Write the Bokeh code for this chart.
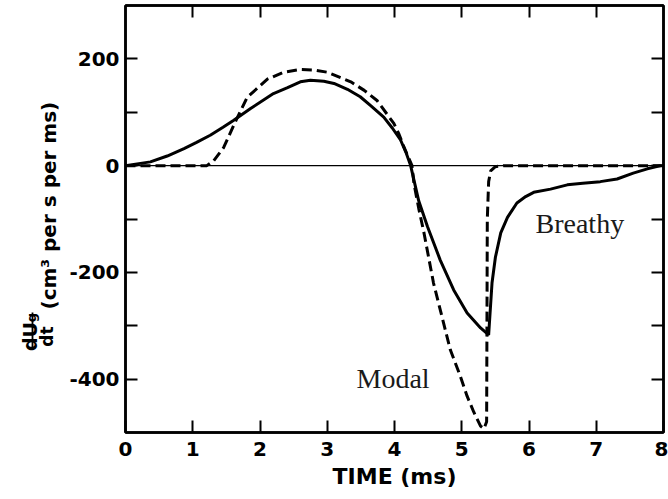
import math

from bokeh.plotting import figure
from bokeh.layouts import row
from bokeh.models import Range1d, LinearAxis, FixedTicker, Span, Label
from bokeh.core.properties import value
from bokeh.embed import file_html
from bokeh.resources import INLINE

# Glottal flow derivative, breathy phonation (solid trace): time in ms, dUg/dt
breathy_t = [0.0, 0.37, 0.62, 0.87, 1.05, 1.26, 1.45, 1.61, 1.86, 2.2, 2.41, 2.6, 2.75,
             2.95, 3.1, 3.3, 3.49, 3.65, 3.84, 3.97, 4.09, 4.17, 4.24, 4.36, 4.49,
             4.68, 4.88, 5.08, 5.28, 5.40, 5.45, 5.50, 5.58, 5.68, 5.82, 5.95, 6.07,
             6.32, 6.57, 6.8, 7.06, 7.31, 7.55, 7.76, 7.96]
breathy_v = [0, 7, 18, 32, 43, 57, 72, 85, 107, 135, 146, 157, 160,
             158, 154, 143, 129, 112, 91, 70, 48, 25, 0, -66, -114,
             -177, -233, -276, -304, -317, -220, -172, -126, -97, -70, -58, -50,
             -44, -36, -33, -30, -25, -14, -6, 0]

# Glottal flow derivative, modal phonation (dashed trace)
modal_t = [0.0, 1.21, 1.31, 1.46, 1.64, 1.81, 2.11, 2.35, 2.6, 2.8, 3.0, 3.35, 3.55,
           3.74, 3.99, 4.07, 4.14, 4.26, 4.29, 4.36, 4.44, 4.58, 4.73, 4.83, 4.98,
           5.08, 5.18, 5.28, 5.33, 5.37, 5.38, 5.40, 5.43, 5.50, 5.62, 8.0]
modal_v = [0, 0, 9, 34, 84, 128, 162, 175, 180, 179, 175, 157, 141,
           122, 79, 58, 35, 0, -34, -80, -127, -220, -295, -345, -395,
           -432, -462, -488, -493, -480, -100, -30, -10, -2, 0, 0]

x_ticks = [0, 1, 2, 3, 4, 5, 6, 7, 8]
x_tick_labels = ["0", "1", "2", "3", "4", "5", "6", "7", "8"]
y_ticks = [-400, -200, 0, 200]
y_tick_labels = ["-400", "-200", "0", "200"]
y_minor_ticks = [-300, -100, 100]

X0, X1 = 0, 8
Y0, Y1 = -500, 300

W, H = 668, 499
LAB_W = 64                          # strip holding the vertical axis title
FL, FR, FT, FB = 125, 663, 5, 432   # plot frame edges, canvas pixels

TICK_FONT = "DejaVu Sans"
INK = "black"

# ---- main plot -------------------------------------------------------------
p = figure(width=W - LAB_W, height=H, x_range=Range1d(X0, X1), y_range=Range1d(Y0, Y1),
           output_backend="svg", toolbar_location=None,
           min_border_left=FL - LAB_W, min_border_right=W - FR,
           min_border_top=FT, min_border_bottom=H - FB)
p.grid.visible = False
p.background_fill_color = "white"
p.border_fill_color = "white"
p.outline_line_color = INK
p.outline_line_width = 2.5
p.outline_line_alpha = 1.0


def style_axis(ax):
    ax.major_tick_in = 12
    ax.major_tick_out = 0
    ax.minor_tick_in = 12
    ax.minor_tick_out = 0
    ax.major_tick_line_width = 2
    ax.minor_tick_line_width = 2
    ax.major_tick_line_color = INK
    ax.minor_tick_line_color = INK
    ax.axis_line_width = 2.5
    ax.axis_line_color = INK
    ax.major_label_text_font = TICK_FONT
    ax.major_label_text_font_style = "bold"
    ax.major_label_text_font_size = "20px"
    ax.major_label_text_color = INK


xax = p.xaxis[0]
xax.ticker = FixedTicker(ticks=x_ticks)
xax.major_label_overrides = {t: s for t, s in zip(x_ticks, x_tick_labels)}
style_axis(xax)
xax.major_label_standoff = 9
xax.axis_label = "TIME (ms)"
xax.axis_label_text_font = TICK_FONT
xax.axis_label_text_font_style = "bold"
xax.axis_label_text_font_size = "22px"
xax.axis_label_text_color = INK
xax.axis_label_standoff = 5

yax = p.yaxis[0]
yax.ticker = FixedTicker(ticks=y_ticks, minor_ticks=y_minor_ticks)
yax.major_label_overrides = {t: s for t, s in zip(y_ticks, y_tick_labels)}
style_axis(yax)
yax.major_label_standoff = 6
yax.axis_label = None

# tick marks only along the top and right edges
top = LinearAxis(ticker=FixedTicker(ticks=[], minor_ticks=x_ticks[1:-1]))
style_axis(top)
top.major_label_standoff = 0
top.axis_label = None
p.add_layout(top, "above")

right = LinearAxis(ticker=FixedTicker(ticks=[], minor_ticks=y_ticks + y_minor_ticks))
style_axis(right)
right.major_label_standoff = 0
right.axis_label = None
p.add_layout(right, "right")

# zero reference line
p.add_layout(Span(location=0, dimension="width", line_color=INK, line_width=1.3))

# traces
p.line(modal_t, modal_v, line_color=INK, line_width=3, line_dash="10 5")
p.line(breathy_t, breathy_v, line_color=INK, line_width=3)


def sx2x(sx):
    return X0 + (sx - FL) / (FR - FL) * (X1 - X0)


def sy2y(sy):
    return Y1 - (sy - FT) / (FB - FT) * (Y1 - Y0)


# curve names
p.add_layout(Label(x=sx2x(356), y=sy2y(378), text="Modal", text_font="Liberation Serif",
                   text_font_size="28px", text_color="#1a1a1a",
                   text_align="left", text_baseline="alphabetic"))
p.add_layout(Label(x=sx2x(535), y=sy2y(223), text="Breathy", text_font="Liberation Serif",
                   text_font_size="28px", text_color="#1a1a1a",
                   text_align="left", text_baseline="alphabetic"))

# ---- vertical axis title: dUg/dt as a stacked fraction, then the units -----
# The row layout lines this strip's frame up with the main frame, so its
# y range spans the same canvas rows (data y = H - canvas row).
lab = figure(width=LAB_W, height=H, x_range=Range1d(0, LAB_W),
             y_range=Range1d(H - FB, H - FT),
             output_backend="svg", toolbar_location=None, title=None,
             x_axis_type=None, y_axis_type=None,
             min_border_left=0, min_border_right=0, min_border_top=0, min_border_bottom=0)
lab.grid.visible = False
lab.outline_line_color = None
lab.background_fill_color = "white"
lab.border_fill_color = "white"

up = math.pi / 2


def vtext(x, sy, txt, size, align="center"):
    lab.text(x=[x], y=[H - sy], text=[txt], angle=up,
             text_font=value(TICK_FONT), text_font_style="bold",
             text_font_size=value(size), text_color=INK,
             text_align=align, text_baseline="alphabetic")


vtext(29, 336, "dU", "19px")
vtext(30.5, 317, "g", "13px")
lab.line(x=[32, 32], y=[H - 349, H - 312], line_color=INK, line_width=1.8)
vtext(46, 336, "dt", "17px")
vtext(48, 309, "(cm\u00b3 per s per ms)", "20px", align="left")

layout = row(lab, p)
open("out.html", "w").write(file_html(layout, INLINE))
